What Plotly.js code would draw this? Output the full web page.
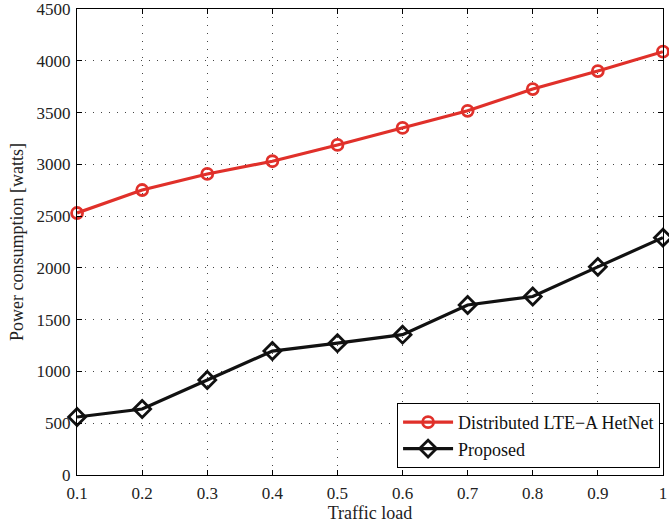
<!DOCTYPE html>
<html>
<head>
<meta charset="utf-8">
<script src="https://cdn.plot.ly/plotly-3.0.1.min.js"></script>
<style>html,body{margin:0;padding:0;background:#fff;}</style>
</head>
<body>
<div id="chart" style="width:669px;height:525px;"></div>
<script>
const trafficLoad = [0.1, 0.2, 0.3, 0.4, 0.5, 0.6, 0.7, 0.8, 0.9, 1.0];
const distributedHetNet = [2530, 2752, 2907, 3030, 3187, 3352, 3517, 3727, 3901, 4088];
const proposed = [560, 637, 917, 1197, 1273, 1355, 1642, 1724, 2010, 2292];
const xTickLabels = ['0.1', '0.2', '0.3', '0.4', '0.5', '0.6', '0.7', '0.8', '0.9', '1'];
const yTicks = [0, 500, 1000, 1500, 2000, 2500, 3000, 3500, 4000, 4500];

const red = '#e0302a';
const serif = 'Liberation Serif, Times New Roman, serif';

const traces = [
  {
    x: trafficLoad, y: distributedHetNet, name: 'Distributed LTE\u2212A HetNet',
    mode: 'lines+markers', cliponaxis: false,
    line: {color: red, width: 3.2},
    marker: {symbol: 'circle-open', size: 11, color: red, line: {width: 2.8, color: red}}
  },
  {
    x: trafficLoad, y: proposed, name: 'Proposed',
    mode: 'lines+markers', cliponaxis: false,
    line: {color: '#111', width: 3.2},
    marker: {symbol: 'diamond-open', size: 13, color: '#111', line: {width: 2.8, color: '#111'}}
  }
];

const axisCommon = {
  showline: true, linecolor: '#000', linewidth: 1, mirror: 'ticks',
  ticks: 'inside', ticklen: 5, tickcolor: '#000',
  showgrid: true, gridcolor: '#444', griddash: '1px,7px', gridwidth: 1,
  zeroline: false, ticklabeloverflow: 'allow',
  tickfont: {family: serif, size: 17, color: '#222'}
};

const layout = {
  width: 669, height: 525,
  margin: {l: 77, r: 6, t: 9, b: 50},
  paper_bgcolor: '#fff', plot_bgcolor: '#fff',
  showlegend: true,
  xaxis: Object.assign({}, axisCommon, {
    range: [0.0999, 1.0001], tickvals: trafficLoad, ticktext: xTickLabels,
    ticklabelstandoff: 3,
    title: {text: 'Traffic load', font: {family: serif, size: 18, color: '#222'}, standoff: 2}
  }),
  yaxis: Object.assign({}, axisCommon, {
    range: [0, 4500.01], tickvals: yTicks,
    ticklabelstandoff: 2,
    title: {text: 'Power consumption [watts]', font: {family: serif, size: 18, color: '#222'}, standoff: 8}
  }),
  legend: {
    x: 0.995, y: 0.015, xanchor: 'right', yanchor: 'bottom',
    bgcolor: '#fff', bordercolor: '#000', borderwidth: 1,
    font: {family: serif, size: 18, color: '#111'},
    tracegroupgap: 0, itemwidth: 50
  }
};

Plotly.newPlot('chart', traces, layout, {displayModeBar: false, staticPlot: true});
</script>
</body>
</html>
